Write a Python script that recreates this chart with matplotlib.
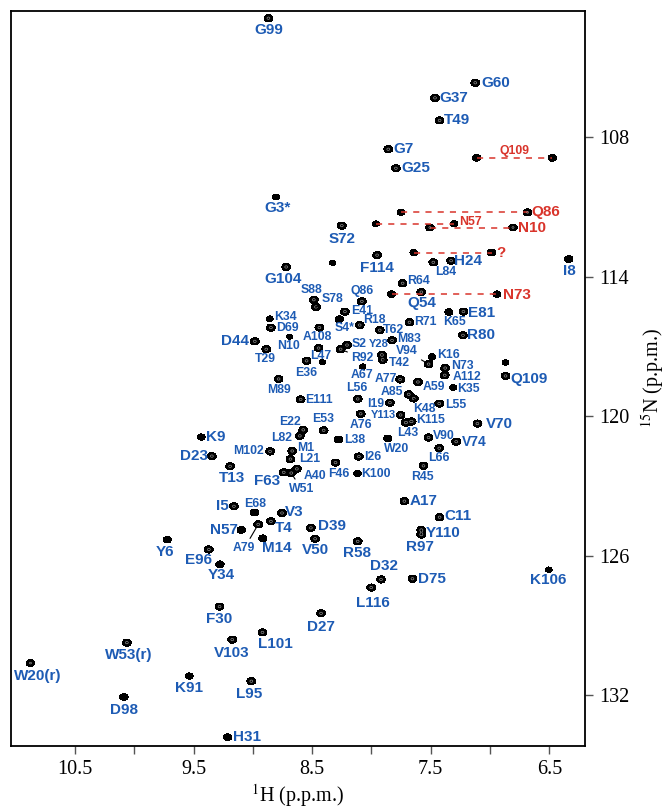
import numpy as np
import matplotlib
matplotlib.use("Agg")
import matplotlib.pyplot as plt

plt.rcParams["mathtext.fontset"] = "stix"

# ---------------- backbone amide assignments (1H ppm, 15N ppm, relative height)
residues = ["G99", "G60", "G37", "T49", "G7", "G25", "G3*", "S72", "F114", "H24",
            "L84", "I8", "G104", "R64", "Q54", "S88", "S78", "Q86", "E41", "S4*",
            "K34", "D69", "R18", "A108", "T62", "R71", "K65", "E81", "R80", "N10",
            "D44", "T29", "M83", "S2", "R92", "Y28", "T42", "L47", "E36", "V94",
            "K16", "N73", "A112", "A67", "A77", "A59", "K35", "Q109", "M89", "L56",
            "A85", "K48", "I19", "L55", "E111", "A76", "Y113", "L43", "K115", "E53",
            "E22", "L82", "V70", "V90", "V74", "L38", "W20", "K9", "M102", "M1",
            "L21", "I26", "L66", "D23", "T13", "F46", "K100", "R45", "A40", "F63",
            "W51", "A17", "I5", "E68", "V3", "C11", "T4", "A79", "N57", "D39",
            "Y110", "R97", "M14", "V50", "R58", "Y6", "E96", "Y34", "D32", "D75",
            "L116", "K106", "F30", "D27", "L101", "V103", "W53(r)", "W20(r)", "K91", "L95",
            "D98", "H31"]
h_shift = [8.869, 7.124, 7.464, 7.425, 7.858, 7.794, 8.805, 8.250, 7.952, 7.328,
           7.478, 6.335, 8.719, 7.737, 7.579, 8.486, 8.468, 8.081, 8.224, 8.271,
           8.858, 8.848, 8.099, 8.439, 7.930, 7.679, 7.346, 7.224, 7.228, 8.690,
           8.984, 8.887, 7.826, 8.206, 8.260, 7.912, 7.905, 8.446, 8.547, 7.518,
           7.489, 7.378, 7.382, 8.074, 7.758, 7.608, 7.310, 6.869, 8.783, 8.116,
           7.686, 7.643, 7.844, 7.428, 8.597, 8.091, 7.754, 7.711, 7.661, 8.403,
           8.575, 8.604, 7.106, 7.518, 7.285, 8.278, 7.862, 9.435, 8.855, 8.668,
           8.683, 8.106, 7.428, 9.346, 9.192, 8.303, 8.116, 7.561, 8.629, 8.740,
           8.676, 7.722, 9.160, 8.987, 8.754, 7.425, 8.848, 8.955, 9.099, 8.511,
           7.579, 7.579, 8.916, 8.475, 8.116, 9.722, 9.371, 9.278, 7.919, 7.654,
           8.002, 6.504, 9.281, 8.425, 8.919, 9.174, 10.063, 10.876, 9.536, 9.013,
           10.088, 9.213]
n_shift = [102.87, 105.65, 106.30, 107.27, 108.51, 109.33, 110.57, 111.80, 113.07, 113.31,
           113.38, 113.24, 113.58, 114.28, 114.66, 114.99, 115.30, 115.06, 115.50, 115.83,
           115.81, 116.19, 116.08, 116.19, 116.30, 115.96, 115.52, 115.50, 116.52, 116.58,
           116.78, 117.12, 116.74, 116.94, 117.12, 117.36, 117.58, 117.07, 117.62, 117.76,
           117.45, 117.93, 118.24, 117.87, 118.42, 118.53, 118.77, 118.27, 118.40, 119.26,
           119.06, 119.24, 119.42, 119.46, 119.28, 119.90, 119.95, 120.28, 120.23, 120.61,
           120.59, 120.85, 120.32, 120.92, 121.10, 121.01, 120.96, 120.90, 121.52, 121.50,
           121.85, 121.74, 121.38, 121.72, 122.16, 122.00, 122.47, 122.14, 122.27, 122.42,
           122.45, 123.66, 123.88, 124.15, 124.17, 124.35, 124.53, 124.66, 124.90, 124.81,
           124.90, 125.10, 125.26, 125.28, 125.39, 125.32, 125.74, 126.38, 127.03, 127.00,
           127.38, 126.61, 128.20, 128.49, 129.31, 129.62, 129.75, 130.63, 131.19, 131.41,
           132.09, 133.82]
height = [1.0, 1.0, 1.0, 1.0, 1.0, 1.0, 0.45, 1.0, 1.0, 1.0,
          1.0, 0.8, 1.0, 1.0, 1.0, 1.0, 1.0, 1.0, 1.0, 0.8,
          0.45, 1.0, 1.0, 1.0, 1.0, 1.0, 0.7, 1.0, 1.0, 0.35,
          1.0, 1.0, 1.0, 1.0, 1.0, 1.0, 1.0, 1.0, 1.0, 1.0,
          0.6, 1.0, 1.0, 0.4, 1.0, 1.0, 0.45, 1.0, 1.0, 1.0,
          1.0, 1.0, 1.0, 1.0, 1.0, 1.0, 1.0, 1.0, 1.0, 1.0,
          1.0, 1.0, 1.0, 1.0, 1.0, 0.8, 0.8, 0.6, 1.0, 1.0,
          1.0, 1.0, 1.0, 1.0, 1.0, 1.0, 0.6, 1.0, 1.0, 1.0,
          1.0, 1.0, 1.0, 0.8, 1.0, 1.0, 1.0, 1.0, 0.8, 1.0,
          1.0, 1.0, 0.8, 1.0, 1.0, 0.7, 1.0, 0.8, 1.0, 1.0,
          1.0, 0.4, 1.0, 1.0, 1.0, 1.0, 1.0, 0.9, 0.6, 1.0,
          0.8, 0.8]

# ---------------- side-chain NH2 pairs (two 1H shifts sharing one 15N shift)
sc_names = ["Q109", "Q86", "N57", "N10", "?", "N73"]
sc_h_left = [7.113, 7.751, 7.962, 7.507, 7.643, 7.830]
sc_h_right = [6.475, 6.683, 7.303, 6.806, 6.987, 6.941]
sc_n = [108.88, 111.23, 111.72, 111.88, 112.96, 114.75]
sc_height_left = [0.8, 0.55, 0.45, 0.9, 0.6, 0.7]
sc_height_right = [0.8, 0.9, 0.6, 0.9, 0.8, 0.7]

# ---------------- weak unassigned peaks
extra_h = [8.328, 8.414, 6.869]
extra_n = [113.40, 117.68, 117.69]
extra_height = [0.35, 0.35, 0.4]

# ---------------- label layout: offset in pixels (dx right, dy down), size class, leader line
BIG, MID, SMALL = 11, 10, 8.8
label_layout = {
    "G99": (0, 12, BIG, False), "G60": (20, 0, BIG, False), "G37": (19, 0, BIG, False),
    "T49": (17, 0, BIG, False), "G7": (15, 0, BIG, False), "G25": (20, 0, BIG, False),
    "G3*": (2, 11, BIG, False), "S72": (0, 13, BIG, False), "F114": (0, 13, BIG, False),
    "H24": (17, 0, BIG, False), "L84": (12, 10, SMALL, False), "I8": (1, 12, BIG, False),
    "G104": (-3, 12, BIG, False), "R64": (16, -2, SMALL, False), "Q54": (0, 11, BIG, False),
    "S88": (-2, -10, SMALL, False), "S78": (17, -8, SMALL, True), "Q86": (0, -10, SMALL, False),
    "E41": (17, -1, SMALL, False), "S4*": (5, 9, SMALL, False), "K34": (16, -2, SMALL, False),
    "D69": (17, 0, SMALL, False), "R18": (15, -5, SMALL, False), "A108": (-2, 9, SMALL, False),
    "T62": (14, 0, SMALL, False), "R71": (16, 0, SMALL, False), "K65": (6, 10, SMALL, False),
    "E81": (18, 1, BIG, False), "R80": (18, 0, BIG, False), "N10": (-1, 9, SMALL, False),
    "D44": (-20, 0, BIG, False), "T29": (-1, 10, SMALL, False), "M83": (17, -1, SMALL, False),
    "S2": (12, -1, SMALL, False), "R92": (22, 9, SMALL, True), "Y28": (-3, -11, 8, False),
    "T42": (17, 3, SMALL, True), "L47": (2, 8, SMALL, False), "E36": (0, 12, SMALL, False),
    "V94": (-22, -13, SMALL, True), "K16": (16, -2, SMALL, False), "N73": (17, -2, SMALL, False),
    "A112": (22, 2, SMALL, False), "A67": (-1, 8, SMALL, False), "A77": (-14, 0, SMALL, False),
    "A59": (16, 5, SMALL, False), "K35": (15, 1, SMALL, False), "Q109": (24, 3, BIG, False),
    "M89": (0, 11, SMALL, False), "L56": (-1, -11, SMALL, False), "A85": (-17, -2, SMALL, False),
    "K48": (11, 11, SMALL, True), "I19": (-14, 1, SMALL, False), "L55": (17, 1, SMALL, False),
    "E111": (18, 1, SMALL, False), "A76": (0, 11, SMALL, False), "Y113": (-17, 0, 8, False),
    "L43": (2, 10, SMALL, False), "K115": (19, -1, SMALL, False), "E53": (-1, -11, SMALL, False),
    "E22": (-13, -8, SMALL, False), "L82": (-18, 2, SMALL, False), "V70": (22, 0, BIG, True),
    "V90": (15, -2, SMALL, False), "V74": (18, 0, MID, False), "L38": (16, 0, SMALL, False),
    "W20": (9, 11, SMALL, False), "K9": (14, 0, BIG, False), "M102": (-22, 0, SMALL, False),
    "M1": (13, -3, SMALL, False), "L21": (19, 0, SMALL, False), "I26": (14, 0, SMALL, False),
    "L66": (0, 10, SMALL, False), "D23": (-18, 0, BIG, False), "T13": (2, 12, BIG, False),
    "F46": (3, 11, SMALL, False), "K100": (18, 0, SMALL, False), "R45": (-1, 11, SMALL, False),
    "A40": (18, 7, SMALL, False), "F63": (-17, 9, BIG, False), "W51": (10, 16, SMALL, True),
    "A17": (19, 0, BIG, False), "I5": (-12, 0, BIG, False), "E68": (1, -9, SMALL, False),
    "V3": (12, -1, BIG, False), "C11": (18, -1, BIG, False), "T4": (13, 7, BIG, False),
    "A79": (-14, 24, SMALL, True), "N57": (-17, 0, BIG, False), "D39": (21, -2, BIG, False),
    "Y110": (22, 3, BIG, False), "R97": (-1, 12, BIG, False), "M14": (14, 10, BIG, False),
    "V50": (0, 11, BIG, False), "R58": (-1, 12, BIG, False), "Y6": (-2, 12, BIG, False),
    "E96": (-10, 11, BIG, False), "Y34": (1, 11, BIG, False), "D32": (3, -13, BIG, False),
    "D75": (19, 0, BIG, False), "L116": (2, 15, BIG, False), "K106": (-1, 10, BIG, False),
    "F30": (0, 12, BIG, False), "D27": (0, 14, BIG, False), "L101": (13, 12, BIG, False),
    "V103": (-1, 13, BIG, False), "W53(r)": (2, 12, BIG, False), "W20(r)": (7, 13, BIG, False),
    "K91": (0, 12, BIG, False), "L95": (-2, 13, BIG, False), "D98": (0, 13, BIG, False),
    "H31": (19, 0, BIG, False),
}
# side-chain labels: anchored at the right peak, or centred on the dashed line
sc_layout = {
    "Q109": ("mid", 0, -7, SMALL), "Q86": ("right", 18, 0, BIG), "N57": ("right", 16, -2, SMALL),
    "N10": ("right", 19, 0, BIG), "?": ("right", 9, 0, BIG), "N73": ("right", 20, 1, BIG),
}

BLUE = "#1d5bb4"
RED = "#d9342b"
PX = 0.72  # points per pixel at 100 dpi

fig = plt.figure(figsize=(6.68, 8.10), dpi=100)
ax = fig.add_axes([0.0165, 0.079, 0.859, 0.908])

# ---------------- synthetic 2D spectrum rendered as contours
all_h = np.concatenate([h_shift, sc_h_left, sc_h_right, extra_h])
all_n = np.concatenate([n_shift, sc_n, sc_n, extra_n])
all_a = np.concatenate([height, sc_height_left, sc_height_right, extra_height])
hx = np.linspace(6.15, 11.1, 2000)
ny = np.linspace(102.3, 134.4, 2400)
sig_h, sig_n = 0.018, 0.075
Gx = np.exp(-0.5 * ((hx[None, :] - all_h[:, None]) / sig_h) ** 2)
Gy = np.exp(-0.5 * ((ny[:, None] - all_n[None, :]) / sig_n) ** 2)
Z = (Gy * all_a[None, :]) @ Gx
ax.contourf(hx, ny, Z, levels=[0.12, 1e3], colors="black")
ax.contour(hx, ny, Z, levels=[0.8], colors="#9a9a9a", linewidths=0.45)

# ---------------- side-chain pairs joined by dashed lines
for name, h1, h2, n in zip(sc_names, sc_h_left, sc_h_right, sc_n):
    ax.plot([h1, h2], [n, n], color=RED, lw=1.1, ls=(0, (4, 4)), zorder=1)
    where, dx, dy, fs = sc_layout[name]
    anchor = ((h1 + h2) / 2, n) if where == "mid" else (h2, n)
    ax.annotate(name, xy=anchor, xytext=(dx * PX, -dy * PX), textcoords="offset points",
                ha="center", va="center", fontsize=fs, fontweight="bold",
                color=RED, family="Liberation Sans", zorder=5)

# ---------------- backbone labels
for name, h, n in zip(residues, h_shift, n_shift):
    dx, dy, fs, leader = label_layout[name]
    kw = {}
    if leader:
        kw["arrowprops"] = dict(arrowstyle="-", color="black", lw=0.8, shrinkA=1, shrinkB=2)
    ax.annotate(name, xy=(h, n), xytext=(dx * PX, -dy * PX), textcoords="offset points",
                ha="center", va="center", fontsize=fs, fontweight="bold",
                color=BLUE, family="Liberation Sans", zorder=5, **kw)

# ---------------- axes
ax.set_xlim(11.04, 6.20)
ax.set_ylim(134.2, 102.54)
ax.set_xticks([10.5, 9.5, 8.5, 7.5, 6.5])
ax.set_xticklabels(["10.5", "9.5", "8.5", "7.5", "6.5"])
ax.set_xticks([10.0, 9.0, 8.0, 7.0], minor=True)
ax.set_yticks([108, 114, 120, 126, 132])
ax.yaxis.tick_right()
ax.yaxis.set_label_position("right")
ax.tick_params(which="both", direction="out", length=6, width=1.0, color="#555555",
               labelsize=14.5, pad=4)
for lab in ax.get_xticklabels() + ax.get_yticklabels():
    lab.set_family("Liberation Serif")
for sp in ax.spines.values():
    sp.set_linewidth(1.3)
ax.set_xlabel(r"$^{1}$H (p.p.m.)", fontsize=14.5, family="Liberation Serif", labelpad=2)
ax.set_ylabel(r"$^{15}$N (p.p.m.)", fontsize=14.5, family="Liberation Serif", labelpad=8,
              rotation=90)

fig.savefig("out.png", dpi=100)
